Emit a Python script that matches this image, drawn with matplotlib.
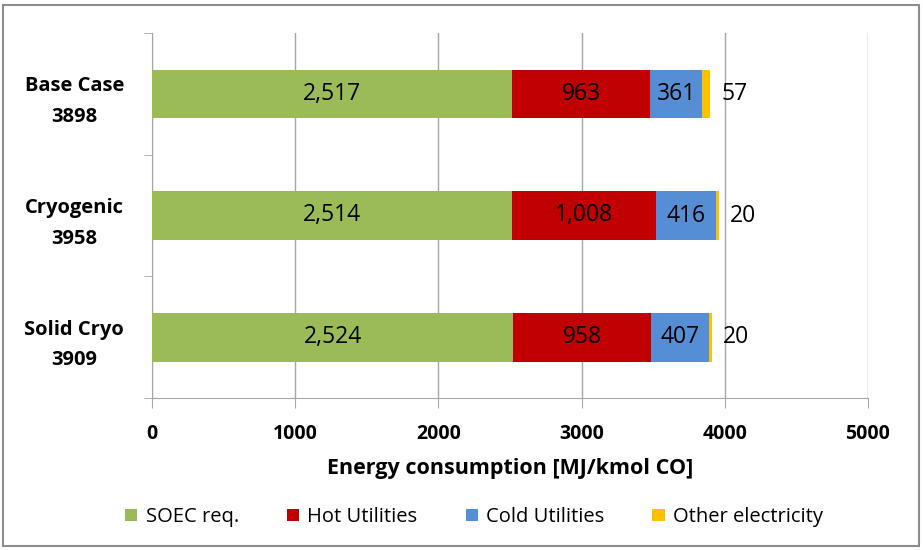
import numpy as np
import matplotlib.pyplot as plt
from matplotlib.patches import Rectangle

# data
cases = ["Base Case\n3898", "Cryogenic\n3958", "Solid Cryo\n3909"]
soec = [2517, 2514, 2524]
hot = [963, 1008, 958]
cold = [361, 416, 407]
other = [57, 20, 20]
series_names = ["SOEC req.", "Hot Utilities", "Cold Utilities", "Other electricity"]
colors = ["#9BBB59", "#C00000", "#558ED5", "#FFC000"]
xticks = [0, 1000, 2000, 3000, 4000, 5000]

plt.rcParams['font.family'] = ['Open Sans', 'DejaVu Sans']

fig = plt.figure(figsize=(9.23, 5.5), dpi=100)
ax = fig.add_axes([152/923, 1-398/550, (868-152)/923, (398-33)/550])

# frame round the whole figure
fig.patches.append(Rectangle((3/923, 4/550), 916/923, 541/550, transform=fig.transFigure,
                             fill=False, edgecolor="#8C8C8C", linewidth=1.5))

y = np.arange(len(cases))
left = np.zeros(len(cases))
for vals, name, col in zip([soec, hot, cold, other], series_names, colors):
    bars = ax.barh(y, vals, left=left, height=0.4, color=col, label=name, zorder=3)
    if name != "Other electricity":
        ax.bar_label(bars, labels=[f"{v:,}" for v in vals], label_type="center",
                     fontsize=16.5, color="black")
    else:
        ax.bar_label(bars, labels=[str(v) for v in vals], padding=8,
                     fontsize=16.5, color="black")
    left = left + np.array(vals)

ax.set_xlim(0, 5000)
ax.set_ylim(2.5, -0.5)
ax.set_xticks(xticks)
ax.set_xticklabels([str(t) for t in xticks], fontsize=14, fontweight="bold")
ax.tick_params(axis="x", length=7, color="#A6A6A6", pad=12)
ax.set_yticks(y)
ax.set_yticklabels(cases, fontsize=14.5, fontweight="bold", multialignment="center",
                   linespacing=1.7)
ax.set_yticks([-0.5, 0.5, 1.5, 2.5], minor=True)
ax.tick_params(axis="y", which="major", length=0, pad=20)
ax.tick_params(axis="y", which="minor", length=6, color="#A6A6A6")
ax.grid(axis="x", color="#A6A6A6", linewidth=1, zorder=0)
for s in ["top", "right"]:
    ax.spines[s].set_visible(False)
for s in ["left", "bottom"]:
    ax.spines[s].set_color("#A6A6A6")
ax.set_xlabel("Energy consumption [MJ/kmol CO]", fontsize=15.5, fontweight="bold", labelpad=10)

fig.legend(loc="center", bbox_to_anchor=(474/923, 1-517/550), ncol=4, frameon=False,
           fontsize=14.5, handlelength=0.6, handleheight=0.6, handletextpad=0.4,
           columnspacing=2.4)

fig.savefig("out.png", dpi=100)
